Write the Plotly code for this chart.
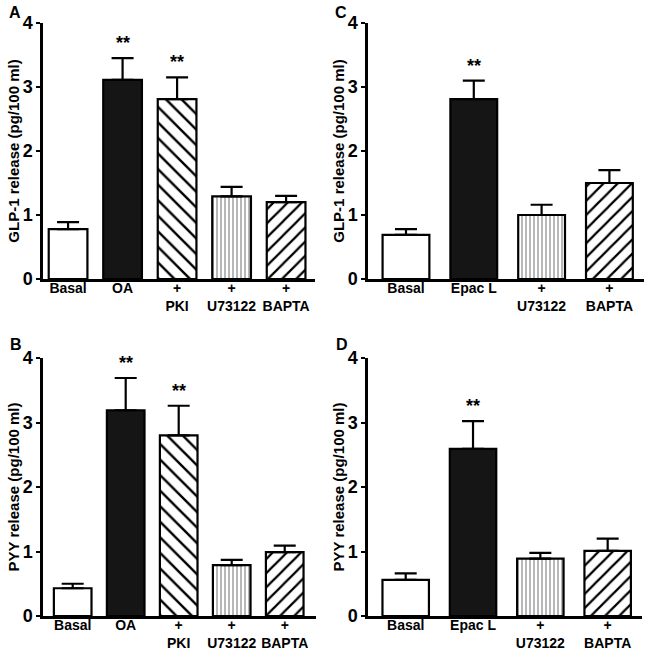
import plotly.graph_objects as go

W, H = 649, 654

# ---------------- data ----------------
labels_ab = ["Basal", "OA", "+<br>PKI", "+<br>U73122", "+<br>BAPTA"]
labels_cd = ["Basal", "Epac L", "+<br>U73122", "+<br>BAPTA"]

glp1_oa = [0.78, 3.11, 2.81, 1.29, 1.20]
glp1_oa_err = [0.11, 0.34, 0.34, 0.15, 0.10]
pyy_oa = [0.43, 3.19, 2.80, 0.79, 0.99]
pyy_oa_err = [0.07, 0.50, 0.46, 0.08, 0.10]

glp1_epac = [0.69, 2.81, 1.00, 1.50]
glp1_epac_err = [0.09, 0.29, 0.16, 0.20]
pyy_epac = [0.56, 2.59, 0.89, 1.01]
pyy_epac_err = [0.10, 0.43, 0.09, 0.19]

stars_ab = ["", "**", "**", "", ""]
stars_cd = ["", "**", "", ""]

y_ticks = [0, 1, 2, 3, 4]

# ---------------- styles ----------------
style = {
    "Basal": dict(color="white", shape="", fg="black", size=8, sol=0.2),
    "OA": dict(color="#151515", shape="", fg="black", size=8, sol=0.2),
    "Epac L": dict(color="#151515", shape="", fg="black", size=8, sol=0.2),
    "PKI": dict(color="white", shape="\\", fg="black", size=11, sol=0.22),
    "U73122": dict(color="white", shape="|", fg="#888888", size=4, sol=0.3),
    "BAPTA": dict(color="white", shape="/", fg="black", size=10, sol=0.22),
}

def key(lbl):
    return lbl.split("<br>")[-1]

FONT = "Liberation Sans, Arial, sans-serif"

def px_x(a, b):
    return [a / W, b / W]

def px_y(top, bottom):
    return [1 - bottom / H, 1 - top / H]

panels = [
    ("", labels_ab, glp1_oa, glp1_oa_err, stars_ab, "GLP-1 release (pg/100 ml)",
     px_x(43, 315), px_y(23, 279), [-0.46, 4.53], 0.71, "A", (7, 13)),
    ("2", labels_cd, glp1_epac, glp1_epac_err, stars_cd, "GLP-1 release (pg/100 ml)",
     px_x(368, 644), px_y(23, 279), [-0.56, 3.51], 0.69, "C", (333, 13)),
    ("3", labels_ab, pyy_oa, pyy_oa_err, stars_ab, "PYY release (pg/100 ml)",
     px_x(43, 316), px_y(358, 616), [-0.56, 4.59], 0.71, "B", (8, 344)),
    ("4", labels_cd, pyy_epac, pyy_epac_err, stars_cd, "PYY release (pg/100 ml)",
     px_x(368, 642), px_y(358, 616), [-0.56, 3.51], 0.69, "D", (334, 344)),
]

fig = go.Figure()
layout = dict(
    width=W, height=H, margin=dict(l=0, r=0, t=0, b=0),
    paper_bgcolor="white", plot_bgcolor="white", showlegend=False,
    font=dict(family=FONT, color="black"),
    barmode="overlay",
)
annotations = []

for (sfx, labels, vals, errs, stars, ytitle, xdom, ydom, xr, bw, letter, lpos) in panels:
    xs = list(range(len(labels)))
    for xi, lbl, v, e in zip(xs, labels, vals, errs):
        st = style[key(lbl)]
        marker = dict(color=st["color"], line=dict(color="black", width=2.2))
        if st["shape"]:
            marker["pattern"] = dict(shape=st["shape"], fgcolor=st["fg"],
                                     bgcolor="white", size=st["size"],
                                     solidity=st["sol"], fillmode="replace")
        fig.add_trace(go.Bar(
            x=[xi], y=[v], width=bw,
            xaxis="x" + sfx, yaxis="y" + sfx,
            marker=marker,
            error_y=dict(type="data", symmetric=False, array=[e],
                         arrayminus=[0], color="black",
                         thickness=2.2, width=11),
            hoverinfo="skip",
        ))
    layout["xaxis" + sfx] = dict(
        domain=xdom, anchor="y" + sfx, range=xr, automargin=False,
        tickvals=xs, ticktext=labels, ticks="", ticklabelstandoff=-6,
        showline=True, linecolor="black", linewidth=2.5,
        showgrid=False, zeroline=False, fixedrange=True,
        tickfont=dict(family=FONT, size=14, weight="bold", color="black"),
    )
    layout["yaxis" + sfx] = dict(
        domain=ydom, anchor="x" + sfx, range=[0, 4], automargin=False,
        tickvals=y_ticks, ticks="outside", ticklen=4, tickwidth=2,
        tickcolor="black", showline=True, linecolor="black", linewidth=2.5,
        showgrid=False, zeroline=False, fixedrange=True,
        tickfont=dict(family=FONT, size=18, weight="bold", color="black"),
        title=dict(text=ytitle, standoff=0,
                   font=dict(family=FONT, size=15, weight="bold", color="black")),
    )
    for xi, v, e, s in zip(xs, vals, errs, stars):
        if s:
            annotations.append(dict(
                x=xi, y=v + e, xref="x" + sfx, yref="y" + sfx,
                text=s, showarrow=False, yanchor="bottom", yshift=3,
                font=dict(family=FONT, size=18, weight="bold", color="black"),
            ))
    annotations.append(dict(
        x=lpos[0] / W, y=1 - lpos[1] / H, xref="paper", yref="paper",
        text=letter, showarrow=False, xanchor="left", yanchor="middle",
        font=dict(family=FONT, size=16, weight="bold", color="black"),
    ))

layout["annotations"] = annotations
fig.update_layout(**layout)
fig.write_html(
    "out.html",
    config={"displayModeBar": False},
    post_script="document.body.style.margin='0';document.body.style.overflow='hidden';",
)
